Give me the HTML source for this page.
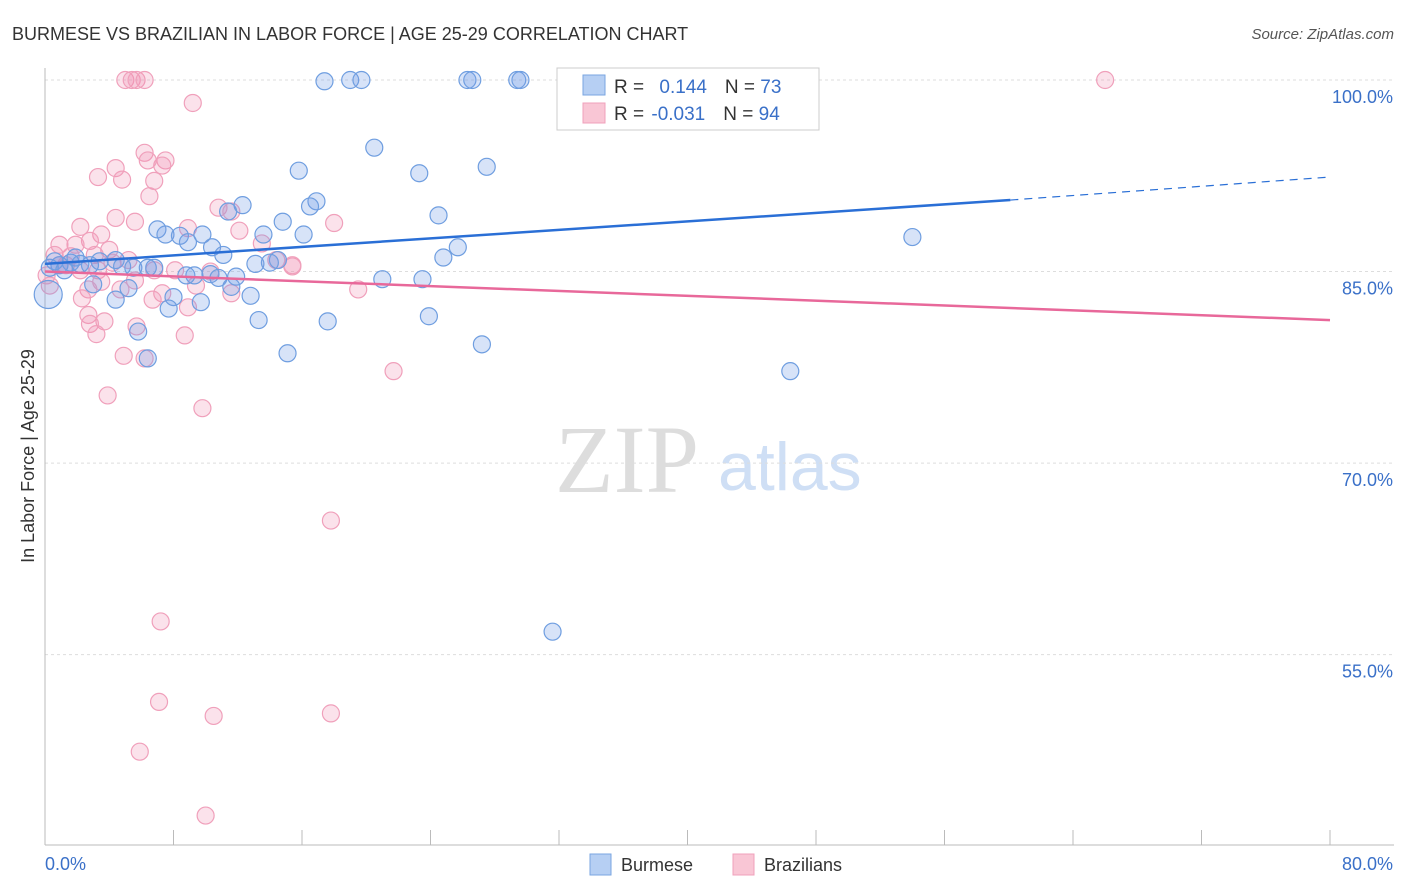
<!DOCTYPE html>
<html><head><meta charset="utf-8"><style>
body{margin:0;background:#fff;font-family:"Liberation Sans",sans-serif;}
svg{display:block}
</style></head><body>
<svg id="c" width="1406" height="892">
<text x="12" y="40" font-size="18" fill="#333">BURMESE VS BRAZILIAN IN LABOR FORCE | AGE 25-29 CORRELATION CHART</text>
<text x="1394" y="39" font-size="15" fill="#555" font-style="italic" text-anchor="end">Source: ZipAtlas.com</text>
<text transform="translate(34,456) rotate(-90)" font-size="18" fill="#333" text-anchor="middle">In Labor Force | Age 25-29</text>
<text x="555" y="492" font-size="96" fill="#ddd" font-family="Liberation Serif,serif">ZIP</text>
<text x="718" y="490" font-size="68" fill="#cfdff5">atlas</text>
<g id="grid"></g><g id="pts"></g><g id="lines"></g>
<g>
<rect x="557" y="68" width="262" height="62" fill="#fff" stroke="#ccc"/>
<rect x="583" y="75" width="22" height="20" fill="#b6cff3" stroke="#7aa6e0"/>
<rect x="583" y="103" width="22" height="20" fill="#f9c6d5" stroke="#f0a0bb"/>
<text x="614" y="93" font-size="19" fill="#333">R = <tspan fill="#3a70c8" dx="10">0.144</tspan><tspan dx="18" fill="#333">N = </tspan><tspan fill="#3a70c8">73</tspan></text>
<text x="614" y="120" font-size="19" fill="#333">R = <tspan fill="#3a70c8" dx="2">-0.031</tspan><tspan dx="18" fill="#333">N = </tspan><tspan fill="#3a70c8">94</tspan></text>
</g>
<g>
<rect x="590" y="854" width="21" height="21" fill="#b6cff3" stroke="#7aa6e0"/>
<text x="621" y="871" font-size="18" fill="#333">Burmese</text>
<rect x="733" y="854" width="21" height="21" fill="#f9c6d5" stroke="#f0a0bb"/>
<text x="764" y="871" font-size="18" fill="#333">Brazilians</text>
</g>
</svg>
<script>
const yTicks=[100,85,70,55];
const xTickVals=[0,8,16,24,32,40,48,56,64,72,80];
const blueX=[17.4,19.0,19.7,26.3,26.6,29.4,29.6,20.5,27.5,15.8,23.3,16.9,16.5,12.3,11.4,24.5,14.8,7.0,7.5,8.4,9.8,8.9,16.1,13.6,25.7,10.4,11.1,24.8,54.0,13.1,14.0,14.5,0.9,1.6,2.8,3.4,4.4,4.8,5.5,6.4,6.8,9.3,10.3,10.8,11.9,8.8,21.0,23.5,3.0,5.2,11.6,12.8,8.0,4.4,9.7,7.7,5.8,13.3,17.6,23.9,15.1,6.4,27.2,46.4,31.6,0.3,0.6,1.9,2.2,1.2,0.2];
const blueY=[99.9,100,100,100,100,100,100,94.7,93.2,92.9,92.7,90.5,90.1,90.2,89.7,89.4,88.9,88.3,87.9,87.8,87.9,87.3,87.9,87.9,86.9,86.9,86.3,86.1,87.7,85.6,85.7,85.9,85.5,85.7,85.5,85.8,85.9,85.4,85.3,85.3,85.3,84.7,84.8,84.5,84.6,84.7,84.4,84.4,84.0,83.7,83.8,83.1,83.0,82.8,82.6,82.1,80.3,81.2,81.1,81.5,78.6,78.2,79.3,77.2,56.8,85.3,85.8,86.1,85.6,85.1,83.2];
const pinkX=[5.0,5.4,5.7,6.2,66.0,9.2,6.2,7.5,7.3,6.4,4.4,3.3,4.8,6.8,6.5,10.8,11.6,4.4,5.6,2.2,8.9,12.1,18.0,3.5,13.5,2.8,1.9,0.9,4.0,3.1,1.6,1.3,2.2,3.3,4.2,5.2,6.8,8.1,10.3,15.4,5.6,3.5,9.4,4.7,2.7,7.3,2.3,6.7,11.6,19.5,8.9,2.7,3.7,2.8,5.7,3.2,8.7,4.9,6.2,21.7,3.9,9.8,17.8,7.2,7.1,10.5,17.8,5.9,10.0,14.4,15.4,0.1,0.3,0.6,0.9];
const pinkY=[100,100,100,100,100,98.2,94.3,93.7,93.3,93.7,93.1,92.4,92.2,92.1,90.9,90.0,89.7,89.2,88.9,88.5,88.4,88.2,88.8,87.9,87.2,87.4,87.1,87.1,86.7,86.3,86.2,85.5,85.1,85.1,85.7,85.9,85.1,85.1,85.0,85.4,84.3,84.2,83.9,83.6,83.6,83.3,82.9,82.8,83.3,83.6,82.2,81.6,81.1,80.9,80.7,80.1,80.0,78.4,78.2,77.2,75.3,74.3,65.5,57.6,51.3,50.2,50.4,47.4,42.4,85.9,85.5,84.7,83.9,86.3,85.5];
const blueLineX=[0,60.1,80];const blueLineY=[85.6,90.6,92.4];
const pinkLineX=[0,80];const pinkLineY=[85.0,81.2];
const X=v=>45+v/80*1285, Y=v=>80+(100-v)*12.77;
const NS='http://www.w3.org/2000/svg';
function mk(t,a,p){const e=document.createElementNS(NS,t);for(const k in a)e.setAttribute(k,a[k]);p.appendChild(e);return e;}
const g=document.getElementById('grid');
yTicks.forEach(v=>{
 const l=mk('line',{x1:45,x2:1394,y1:Y(v),y2:Y(v),stroke:'#ddd','stroke-dasharray':'3,3'},g);
 
 
 const t=mk('text',{x:1393,y:Y(v)+23,'font-size':18,fill:'#3a70c8','text-anchor':'end'},g);t.textContent=v.toFixed(1)+'%';
 
 
});
mk('line',{x1:45,x2:45,y1:68,y2:845,stroke:'#bbb'},g);
mk('line',{x1:45,x2:1394,y1:845,y2:845,stroke:'#bbb'},g);
xTickVals.forEach(v=>{const l=mk('line',{x1:X(v),x2:X(v),y1:830,y2:845,stroke:'#bbb'},g);
 
 });
[[0,'0.0%','start',45],[80,'80.0%','end',1393]].forEach(a=>{const t=mk('text',{x:a[3],y:870,'font-size':18,fill:'#3a70c8','text-anchor':a[2]},g);t.textContent=a[1];
 
 });
const p=document.getElementById('pts');
pinkX.forEach((x,i)=>{const c=mk('circle',{cx:X(x),cy:Y(pinkY[i]),r:8.5,fill:'rgba(240,140,175,0.25)',stroke:'#f0a0bb','stroke-width':1.2},p);
 
 });
blueX.forEach((x,i)=>{const big=i==blueX.length-1;const c=mk('circle',{cx:X(x),cy:Y(blueY[i]),r:big?14:8.5,fill:'rgba(110,155,230,0.28)',stroke:'#6f9ee0','stroke-width':1.2},p);
 
 });
const L=document.getElementById('lines');
let b1=mk('line',{x1:X(blueLineX[0]),y1:Y(blueLineY[0]),x2:X(blueLineX[1]),y2:Y(blueLineY[1]),stroke:'#2a6fd6','stroke-width':2.5},L);


let b2=mk('line',{x1:X(blueLineX[1]),y1:Y(blueLineY[1]),x2:X(blueLineX[2]),y2:Y(blueLineY[2]),stroke:'#2a6fd6','stroke-width':1.2,'stroke-dasharray':'8,6'},L);


let p1=mk('line',{x1:X(pinkLineX[0]),y1:Y(pinkLineY[0]),x2:X(pinkLineX[1]),y2:Y(pinkLineY[1]),stroke:'#e8689a','stroke-width':2.5},L);


</script>
</body></html>
